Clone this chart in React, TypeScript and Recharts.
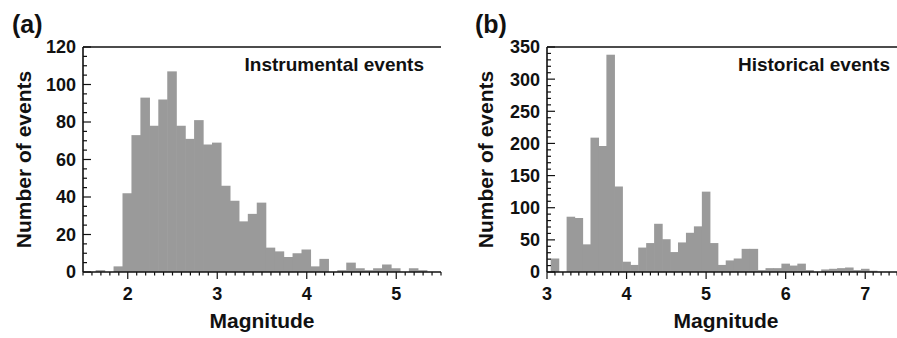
import React from "react";
import { BarChart, Bar, XAxis, YAxis, ReferenceLine } from "recharts";

// (a) instrumental catalogue, 0.1-magnitude bins (bin centres)
const instrumentalMagnitudes = [
  1.7, 1.8, 1.9, 2.0, 2.1, 2.2, 2.3, 2.4, 2.5, 2.6, 2.7, 2.8, 2.9, 3.0, 3.1,
  3.2, 3.3, 3.4, 3.5, 3.6, 3.7, 3.8, 3.9, 4.0, 4.1, 4.2, 4.3, 4.4, 4.5, 4.6,
  4.7, 4.8, 4.9, 5.0, 5.1, 5.2, 5.3,
];
const instrumentalCounts = [
  1, 0, 3, 42, 73, 93, 78, 92, 107, 78, 71, 81, 68, 69, 46,
  38, 27, 31, 37, 13, 11, 8, 10, 12, 3, 7, 0, 1, 5, 2,
  1, 2, 4, 2, 0, 2, 1,
];

// (b) historical catalogue
const historicalMagnitudes = [
  3.1, 3.2, 3.3, 3.4, 3.5, 3.6, 3.7, 3.8, 3.9, 4.0, 4.1, 4.2, 4.3, 4.4, 4.5,
  4.6, 4.7, 4.8, 4.9, 5.0, 5.1, 5.2, 5.3, 5.4, 5.5, 5.6, 5.7, 5.8, 5.9, 6.0,
  6.1, 6.2, 6.3, 6.4, 6.5, 6.6, 6.7, 6.8, 6.9, 7.0, 7.1,
];
const historicalCounts = [
  21, 0, 86, 84, 43, 209, 196, 338, 133, 16, 11, 38, 45, 75, 51,
  31, 46, 61, 71, 125, 45, 11, 18, 21, 36, 36, 3, 6, 6, 13,
  10, 13, 3, 0, 4, 5, 6, 7, 3, 5, 2,
];

const instrumentalXTicks = [2, 3, 4, 5];
const historicalXTicks = [3, 4, 5, 6, 7];
const instrumentalYTicks = [0, 20, 40, 60, 80, 100, 120];
const historicalYTicks = [0, 50, 100, 150, 200, 250, 300, 350];

const FONT = '"Liberation Sans", Arial, Helvetica, sans-serif';
const INK = "#111";
const BAR = "#9a9a9a";
const H = 338;
const PLOT_TOP = 47;
const X_AXIS_H = 66;
const PLOT_H = H - PLOT_TOP - X_AXIS_H;
const BIN = 0.1;

function steps(lo: number, hi: number, step: number) {
  const out: number[] = [];
  const n = Math.round((hi - lo) / step);
  for (let i = 0; i <= n; i++) out.push(+(lo + i * step).toFixed(3));
  return out;
}

const isMajor = (majors: number[], v: number) =>
  majors.some((m) => Math.abs(m - v) < 1e-6);

function XTick(props: any) {
  const { x, y, payload, majors } = props;
  const major = isMajor(majors, payload.value);
  return (
    <g>
      <line x1={x} x2={x} y1={y} y2={y + (major ? 7 : 3.5)} stroke={INK} strokeWidth={1.2} />
      {major && (
        <text x={x} y={y + 28} textAnchor="middle" fontSize={18} fontWeight="bold" fontFamily={FONT} fill={INK}>
          {payload.value}
        </text>
      )}
    </g>
  );
}

function YTickLeft(props: any) {
  const { x, y, payload, majors } = props;
  const major = isMajor(majors, payload.value);
  return (
    <g>
      <line x1={x} x2={x + (major ? 8 : 4)} y1={y} y2={y} stroke={INK} strokeWidth={1.2} />
      {major && (
        <text x={x - 7} y={y} dy="0.36em" textAnchor="end" fontSize={18} fontWeight="bold" fontFamily={FONT} fill={INK}>
          {payload.value}
        </text>
      )}
    </g>
  );
}

function YTickRight(props: any) {
  const { x, y, payload, majors } = props;
  const major = isMajor(majors, payload.value);
  return <line x1={x} x2={x - (major ? 8 : 4)} y1={y} y2={y} stroke={INK} strokeWidth={1.2} />;
}

interface PanelProps {
  tag: string;
  tagX: number;
  name: string;
  nameInset: number;
  mags: number[];
  counts: number[];
  xDomain: [number, number];
  xMajors: number[];
  yMax: number;
  yMajors: number[];
  yStep: number;
  left: number;
  width: number;
  axisW: number;
  marginRight: number;
  yTitleX: number;
}

function Panel(p: PanelProps) {
  const data = p.mags.map((m, i) => ({ m, n: p.counts[i] }));
  const plotW = p.width - p.axisW - p.marginRight;
  const binPx = (plotW / (p.xDomain[1] - p.xDomain[0])) * BIN;
  const midY = PLOT_TOP + PLOT_H / 2;

  // draw each bin full width (slight overlap hides antialiasing seams)
  const histBar = (b: any) => {
    const cx = b.x + b.width / 2;
    return (
      <rect
        x={cx - binPx / 2 - 0.3}
        y={b.y}
        width={binPx + 0.6}
        height={Math.max(0, b.height)}
        fill={BAR}
      />
    );
  };

  return (
    <div style={{ position: "absolute", left: p.left, top: 0 }}>
      <BarChart
        width={p.width}
        height={H}
        data={data}
        margin={{ top: PLOT_TOP, right: p.marginRight, bottom: 0, left: 0 }}
      >
        <XAxis
          dataKey="m"
          type="number"
          domain={p.xDomain}
          ticks={steps(p.xDomain[0], p.xDomain[1], 0.1)}
          interval={0}
          height={X_AXIS_H}
          tickSize={0}
          tickMargin={0}
          tickLine={false}
          axisLine={{ stroke: INK, strokeWidth: 1.6 }}
          tick={<XTick majors={p.xMajors} />}
          label={() => (
            <text x={p.axisW + plotW / 2} y={328} textAnchor="middle" fontSize={21} fontWeight="bold" fontFamily={FONT} fill={INK}>
              Magnitude
            </text>
          )}
        />
        <YAxis
          yAxisId="l"
          type="number"
          domain={[0, p.yMax]}
          ticks={steps(0, p.yMax, p.yStep)}
          interval={0}
          width={p.axisW}
          tickSize={0}
          tickMargin={0}
          tickLine={false}
          axisLine={{ stroke: INK, strokeWidth: 1.6 }}
          tick={<YTickLeft majors={p.yMajors} />}
          label={() => (
            <g>
              <text
                x={p.yTitleX}
                y={midY}
                transform={`rotate(-90 ${p.yTitleX} ${midY})`}
                textAnchor="middle"
                dominantBaseline="central"
                fontSize={21}
                fontWeight="bold"
                fontFamily={FONT}
                fill={INK}
              >
                Number of events
              </text>
              <text x={p.tagX} y={33} fontSize={25} fontWeight="bold" fontFamily={FONT} fill={INK}>
                {p.tag}
              </text>
            </g>
          )}
        />
        <YAxis
          yAxisId="r"
          orientation="right"
          type="number"
          domain={[0, p.yMax]}
          ticks={steps(0, p.yMax, p.yStep)}
          interval={0}
          width={0}
          tickSize={0}
          tickMargin={0}
          tickLine={false}
          axisLine={{ stroke: INK, strokeWidth: 1.6 }}
          tick={<YTickRight majors={p.yMajors} />}
        />
        <ReferenceLine
          yAxisId="l"
          y={p.yMax}
          stroke={INK}
          strokeWidth={1.6}
          label={() => (
            <text
              x={p.axisW + plotW - p.nameInset}
              y={PLOT_TOP + 24}
              textAnchor="end"
              fontSize={19}
              fontWeight="bold"
              fontFamily={FONT}
              fill={INK}
            >
              {p.name}
            </text>
          )}
        />
        <Bar yAxisId="l" dataKey="n" fill={BAR} barSize={4} shape={histBar} isAnimationActive={false} />
      </BarChart>
    </div>
  );
}

export default function App() {
  return (
    <div
      style={{
        position: "absolute",
        left: 0,
        top: 0,
        width: 897,
        height: H,
        overflow: "hidden",
        background: "#fff",
        fontFamily: FONT,
      }}
    >
      <Panel
        tag="(a)"
        tagX={12}
        name="Instrumental events"
        nameInset={17}
        mags={instrumentalMagnitudes}
        counts={instrumentalCounts}
        xDomain={[1.5, 5.5]}
        xMajors={instrumentalXTicks}
        yMax={120}
        yMajors={instrumentalYTicks}
        yStep={5}
        left={0}
        width={450}
        axisW={83}
        marginRight={9}
        yTitleX={23}
      />
      <Panel
        tag="(b)"
        tagX={15}
        name="Historical events"
        nameInset={15}
        mags={historicalMagnitudes}
        counts={historicalCounts}
        xDomain={[3, 7.5]}
        xMajors={historicalXTicks}
        yMax={350}
        yMajors={historicalYTicks}
        yStep={10}
        left={460}
        width={460}
        axisW={87}
        marginRight={15}
        yTitleX={25}
      />
    </div>
  );
}
